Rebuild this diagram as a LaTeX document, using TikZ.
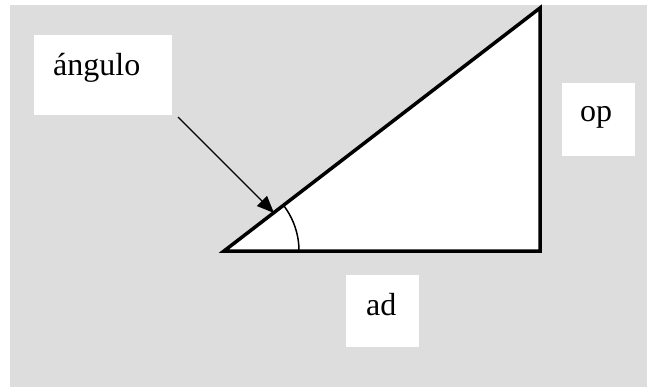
\documentclass[tikz,border=0pt]{standalone}
\usepackage{fontspec}
\setmainfont{Liberation Serif}
\usetikzlibrary{arrows.meta}
\definecolor{bggray}{HTML}{DDDDDD}
\tikzset{
  labelbox/.style={fill=white, draw=none},
  labeltext/.style={anchor=base west, inner sep=0pt, font=\fontsize{32}{38}\selectfont},
  triline/.style={line width=3.5pt, line join=miter, fill=white},
  pointer/.style={line width=1.4pt, -{Triangle[length=17pt,width=14pt]}},
  anglearc/.style={line width=1.5pt}
}
\begin{document}
\begin{tikzpicture}[x=1pt,y=-1pt]
\useasboundingbox (0,0) rectangle (647,387);
\fill[white] (0,0) rectangle (647,387);
\fill[bggray] (10,5) rectangle (647,387);
% label boxes
\fill[labelbox] (34,35) rectangle (172,115);
\fill[labelbox] (562,83) rectangle (635,156);
\fill[labelbox] (346,275) rectangle (419,347);
\node[labeltext] (ang) at (53,76) {ángulo};
\node[labeltext] (op) at (580,122) {op};
\node[labeltext] (ad) at (366,315) {ad};
% triangle
\coordinate (A) at (224,251);
\coordinate (B) at (540,251);
\coordinate (C) at (540,8);
\draw[triline] (A) -- (B) -- (C) -- cycle;
% angle arc
\draw[anglearc] (A) ++(75,0) arc[start angle=0, end angle=-37.6, radius=75];
% pointer
\coordinate (pstart) at (178,117);
\coordinate (ptip) at (274,213);
\draw[pointer] (pstart) -- (ptip);
\end{tikzpicture}
\end{document}
